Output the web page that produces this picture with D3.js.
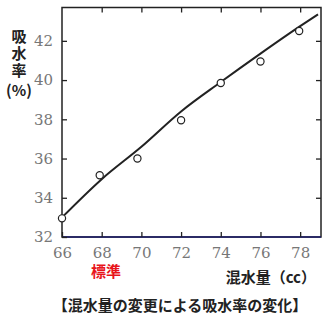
<!doctype html>
<html>
<head>
<meta charset="utf-8">
<script src="https://cdnjs.cloudflare.com/ajax/libs/d3/7.8.5/d3.min.js"></script>
<style>
  body { margin: 0; background: #fff; }
  svg { display: block; }
</style>
</head>
<body>
<svg id="chart" width="328" height="316"></svg>
<script>
  // measured points
  var ptX = [66, 67.9, 69.8, 72, 74, 76, 77.95];
  var ptY = [32.95, 35.15, 36.0, 37.95, 39.85, 40.95, 42.5];
  // fitted curve
  var fitX = [66, 68, 70, 72, 74, 76, 78, 78.9];
  var fitY = [33.0, 34.95, 36.6, 38.4, 39.9, 41.35, 42.75, 43.35];
  var xTicks = [66, 68, 70, 72, 74, 76, 78];
  var yTicks = [32, 34, 36, 38, 40, 42];

  var svg = d3.select("#chart");
  var x = d3.scaleLinear().domain([66, 79.05]).range([62, 321]);
  var y = d3.scaleLinear().domain([32, 43.7]).range([237, 7.5]);

  var jpFont = "'Noto Sans CJK JP', sans-serif";

  // frame
  svg.append("rect")
    .attr("x", x(66)).attr("y", y(43.7))
    .attr("width", x(79.05) - x(66)).attr("height", y(32) - y(43.7))
    .attr("fill", "none").attr("stroke", "#222").attr("stroke-width", 1.5);
  svg.append("line")
    .attr("x1", x(66)).attr("x2", x(79.05)).attr("y1", y(32)).attr("y2", y(32))
    .attr("stroke", "#1c1c6a").attr("stroke-width", 1.6);

  // axes with inward ticks
  var gB = svg.append("g").attr("transform", "translate(0," + y(32) + ")")
    .call(d3.axisBottom(x).tickValues(xTicks).tickSize(-5).tickPadding(10).tickFormat(d3.format("d")));
  var gT = svg.append("g").attr("transform", "translate(0," + y(43.7) + ")")
    .call(d3.axisTop(x).tickValues(xTicks.slice(1)).tickSize(-5).tickFormat(""));
  var gL = svg.append("g").attr("transform", "translate(" + x(66) + ",0)")
    .call(d3.axisLeft(y).tickValues(yTicks).tickSize(-5).tickPadding(9).tickFormat(d3.format("d")));
  var gR = svg.append("g").attr("transform", "translate(" + x(79.05) + ",0)")
    .call(d3.axisRight(y).tickValues(yTicks.slice(1)).tickSize(-5).tickFormat(""));
  [gB, gT, gL, gR].forEach(function(g) {
    g.select(".domain").remove();
    g.selectAll(".tick line").attr("stroke", "#222").attr("stroke-width", 1.3);
    g.selectAll(".tick text")
      .style("font-family", "'DejaVu Serif', 'Liberation Serif', serif")
      .style("font-size", "15px")
      .attr("fill", "#777");
  });

  // fitted curve
  var line = d3.line()
    .x(function(d, i) { return x(fitX[i]); })
    .y(function(d, i) { return y(fitY[i]); })
    .curve(d3.curveMonotoneX);
  svg.append("path")
    .datum(fitX)
    .attr("d", line)
    .attr("fill", "none").attr("stroke", "#222").attr("stroke-width", 2);

  // points
  svg.selectAll("circle.pt")
    .data(ptX)
    .enter().append("circle")
    .attr("class", "pt")
    .attr("cx", function(d) { return x(d); })
    .attr("cy", function(d, i) { return y(ptY[i]); })
    .attr("r", 3.6)
    .attr("fill", "#fff").attr("stroke", "#222").attr("stroke-width", 1.2);

  // y label, vertical
  svg.append("text")
    .attr("x", 19).attr("y", 29)
    .style("writing-mode", "vertical-rl")
    .style("letter-spacing", "2px")
    .attr("font-family", jpFont).attr("font-size", 15).attr("font-weight", "bold")
    .attr("fill", "#222")
    .text("吸水率");
  svg.append("text")
    .attr("x", 19).attr("y", 96)
    .attr("text-anchor", "middle")
    .attr("font-family", jpFont).attr("font-size", 15).attr("font-weight", "bold")
    .attr("fill", "#222")
    .text("(%)");

  svg.append("text")
    .attr("x", 106).attr("y", 277)
    .attr("text-anchor", "middle")
    .attr("font-family", jpFont).attr("font-size", 15).attr("font-weight", "bold")
    .attr("fill", "#e8141b")
    .text("標準");

  svg.append("text")
    .attr("x", 316).attr("y", 283)
    .attr("text-anchor", "end")
    .attr("font-family", jpFont).attr("font-size", 15).attr("font-weight", "bold")
    .attr("fill", "#222")
    .text("混水量（cc）");

  svg.append("text")
    .attr("x", 180).attr("y", 311)
    .attr("text-anchor", "middle")
    .attr("font-family", jpFont).attr("font-size", 15).attr("font-weight", "bold")
    .attr("fill", "#222")
    .text("【混水量の変更による吸水率の変化】");
</script>
</body>
</html>
